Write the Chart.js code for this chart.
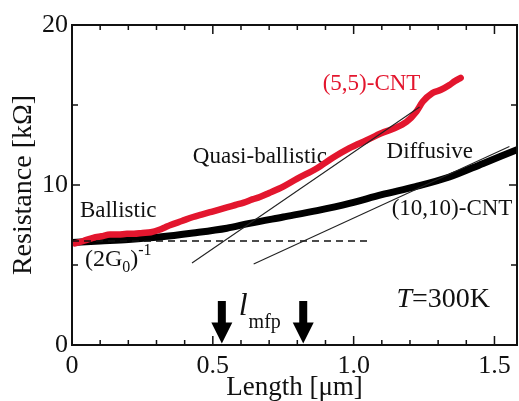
<!DOCTYPE html>
<html><head><meta charset="utf-8">
<script src="https://cdn.jsdelivr.net/npm/chart.js@4.4.1/dist/chart.umd.min.js"></script>
<style>html,body{margin:0;padding:0;background:#fff;}canvas{display:block;}</style>
</head><body>
<canvas id="c" width="519" height="401"></canvas>
<script>
// ---- data ----
const lenRed = [0.01,0.04,0.075,0.105,0.135,0.165,0.195,0.22,0.25,0.28,0.31,0.33,0.35,0.39,0.43,0.46,0.49,0.52,0.55,0.58,0.61,0.64,0.667,0.70,0.75,0.80,0.87,0.926,0.985,1.046,1.10,1.138,1.188,1.223,1.245,1.28,1.31,1.34,1.36,1.38];
const resRed = [6.35,6.5,6.7,6.8,6.9,6.9,6.95,6.95,7.0,7.05,7.2,7.35,7.5,7.75,8.0,8.15,8.3,8.45,8.6,8.75,8.9,9.1,9.25,9.5,9.9,10.4,11.05,11.7,12.3,12.8,13.25,13.5,13.95,14.6,15.2,15.75,15.95,16.25,16.5,16.7];
const lenBlack = [0,0.1,0.2,0.31,0.43,0.55,0.63,0.75,0.87,0.985,1.10,1.22,1.34,1.46,1.58];
const resBlack = [6.4,6.5,6.6,6.75,7.0,7.3,7.6,8.0,8.4,8.85,9.4,9.9,10.5,11.35,12.2];
const quasiLen = [0.426,1.234];
const quasiRes = [5.125,14.875];
const diffLen = [0.645,1.553];
const diffRes = [5.06,12.4];
const g0Len = [0,1.057];
const g0Res = [6.5,6.5];
const arrowLen = [0.532,0.821];
const xMajor = [0,0.5,1.0,1.5];
const xTickLabels = ['0','0.5','1.0','1.5'];
const xMinor = [0.1,0.2,0.3,0.4,0.6,0.7,0.8,0.9,1.1,1.2,1.3,1.4];
const yMajor = [0,10,20];
const yTickLabels = ['0','10','20'];
const yMinor = [5,15];

const SERIF = "'Liberation Serif','Times New Roman',serif";
const TXT = '#111';
function pts(xs, ys){ return xs.map((x,i)=>({x:x, y:ys[i]})); }

function drawRich(ctx, x, y, segs){
  let cx = x;
  segs.forEach(s=>{
    ctx.font = (s.italic?'italic ':'') + s.size + 'px ' + SERIF;
    ctx.fillStyle = s.color || TXT;
    ctx.fillText(s.t, cx, y + (s.dy||0));
    cx += ctx.measureText(s.t).width + (s.gap||0);
  });
}

const labels = [
  {x:0.89,  y:15.94, segs:[{t:'(5,5)-CNT', size:23, color:'#e3162e'}]},
  {x:0.429, y:11.375, segs:[{t:'Quasi-ballistic', size:23}]},
  {x:1.117, y:11.69, segs:[{t:'Diffusive', size:23}]},
  {x:0.028, y:8.0, segs:[{t:'Ballistic', size:23}]},
  {x:1.135, y:8.125, segs:[{t:'(10,10)-CNT', size:23}]},
  {x:0.046, y:4.94, segs:[{t:'(2G', size:24},{t:'0', size:16, dy:6},{t:')', size:24},{t:'-1', size:16, dy:-11}]},
  {x:0.592, y:1.875, segs:[{t:'l', size:32, italic:true, gap:1},{t:'mfp', size:20, dy:13}]},
  {x:1.152, y:2.375, segs:[{t:'T', size:28, italic:true},{t:'=300K', size:28}]}
];

const deco = {
  id:'deco',
  beforeDatasetsDraw(chart){
    const ctx = chart.ctx, xs = chart.scales.x, ys = chart.scales.y;
    ctx.save();
    ctx.textBaseline = 'alphabetic'; ctx.textAlign = 'left';
    labels.forEach(l=>drawRich(ctx, xs.getPixelForValue(l.x), ys.getPixelForValue(l.y), l.segs));
    ctx.restore();
  },
  afterDatasetsDraw(chart){
    const ctx = chart.ctx, xs = chart.scales.x, ys = chart.scales.y, a = chart.chartArea;
    ctx.save();
    // arrows
    ctx.fillStyle = '#000';
    arrowLen.forEach(v=>{
      const px = xs.getPixelForValue(v);
      const top = ys.getPixelForValue(2.75), base = ys.getPixelForValue(1.4), tip = ys.getPixelForValue(0.1);
      ctx.beginPath();
      ctx.moveTo(px-4, top); ctx.lineTo(px+4, top); ctx.lineTo(px+4, base);
      ctx.lineTo(px+10.5, base); ctx.lineTo(px, tip); ctx.lineTo(px-10.5, base);
      ctx.lineTo(px-4, base); ctx.closePath(); ctx.fill();
    });
    // frame
    ctx.strokeStyle = '#111'; ctx.lineWidth = 2;
    ctx.strokeRect(a.left, a.top, a.right-a.left, a.bottom-a.top);
    // inward ticks
    ctx.lineWidth = 1.5;
    ctx.beginPath();
    const xt = (vals, len)=>vals.forEach(v=>{
      const p = xs.getPixelForValue(v);
      ctx.moveTo(p, a.bottom); ctx.lineTo(p, a.bottom-len);
      ctx.moveTo(p, a.top); ctx.lineTo(p, a.top+len);
    });
    const yt = (vals, len)=>vals.forEach(v=>{
      const p = ys.getPixelForValue(v);
      ctx.moveTo(a.left, p); ctx.lineTo(a.left+len, p);
      ctx.moveTo(a.right, p); ctx.lineTo(a.right-len, p);
    });
    xt(xMajor, 9); xt(xMinor, 5); yt(yMajor, 8); yt(yMinor, 6);
    ctx.stroke();
    ctx.restore();
  }
};

new Chart(document.getElementById('c'), {
  type:'scatter',
  data:{datasets:[
    {data:pts(quasiLen, quasiRes), showLine:true, borderColor:'#222', borderWidth:1.1, pointRadius:0},
    {data:pts(diffLen, diffRes), showLine:true, borderColor:'#222', borderWidth:1.1, pointRadius:0},
    {data:pts(g0Len, g0Res), showLine:true, borderColor:'#111', borderWidth:1.3, borderDash:[7,5], pointRadius:0},
    {data:pts(lenRed, resRed), showLine:true, borderColor:'#e3162e', borderWidth:6.5, pointRadius:0, cubicInterpolationMode:'monotone', borderCapStyle:'round', borderJoinStyle:'round'},
    {data:pts(lenBlack, resBlack), showLine:true, borderColor:'#000', borderWidth:7, pointRadius:0, cubicInterpolationMode:'monotone', borderCapStyle:'round'}
  ]},
  options:{
    responsive:false, animation:false,
    layout:{padding:{left:0, right:2, top:25, bottom:0}},
    plugins:{legend:{display:false}, tooltip:{enabled:false}},
    scales:{
      x:{type:'linear', min:0, max:1.58,
        grid:{display:false, drawTicks:false}, border:{display:false},
        ticks:{stepSize:0.5, includeBounds:false, padding:6, color:TXT, font:{family:SERIF, size:26},
          callback:(v)=>{const i = xMajor.findIndex(m=>Math.abs(m-v)<1e-6); return i>=0 ? xTickLabels[i] : '';}},
        title:{display:true, text:'Length [μm]', color:TXT, font:{family:SERIF, size:27}, padding:{top:0, bottom:-3}},
        afterFit:(s)=>{s.height = 56;}
      },
      y:{type:'linear', min:0, max:20,
        grid:{display:false, drawTicks:false}, border:{display:false},
        ticks:{stepSize:10, padding:4, color:TXT, font:{family:SERIF, size:26},
          callback:(v)=>{const i = yMajor.indexOf(v); return i>=0 ? yTickLabels[i] : '';}},
        title:{display:true, text:'Resistance [kΩ]', color:TXT, font:{family:SERIF, size:28}, padding:{top:7, bottom:0}},
        afterFit:(s)=>{s.width = 72;}
      }
    }
  },
  plugins:[deco]
});
</script>
</body></html>
